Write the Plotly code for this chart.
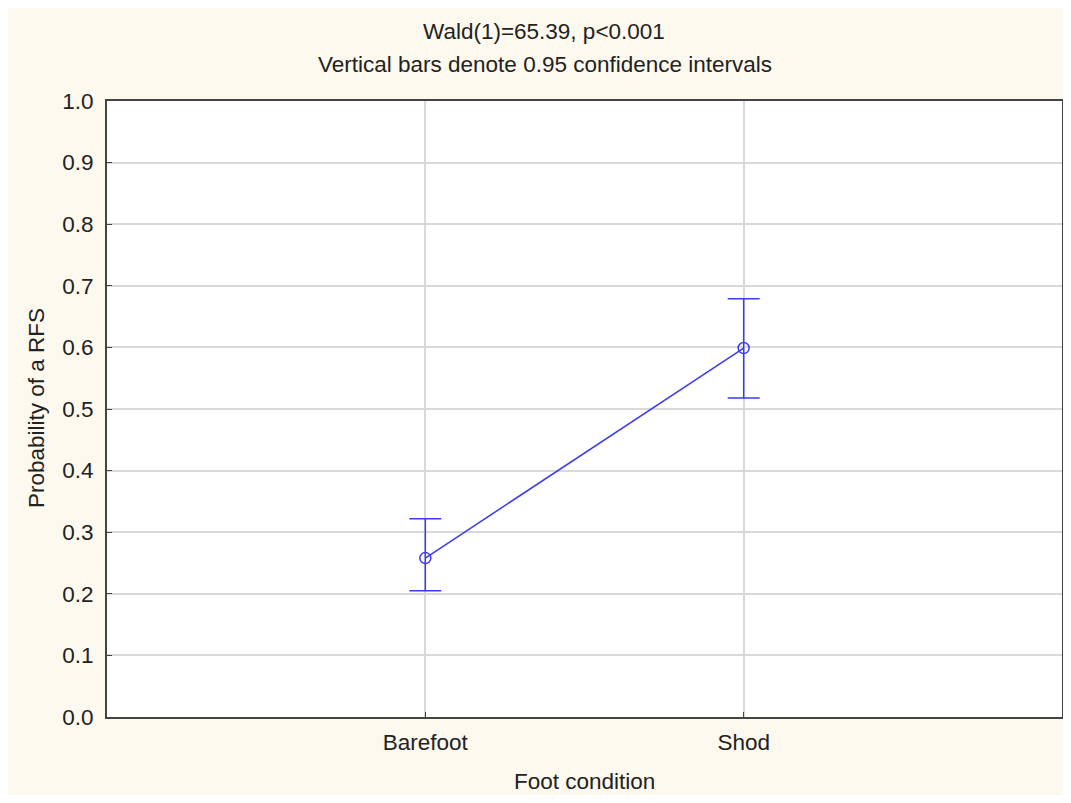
import plotly.graph_objects as go

categories = ["Barefoot", "Shod"]
x_pos = [1, 2]
means = [0.258, 0.599]
upper = [0.322, 0.679]
lower = [0.205, 0.518]
y_ticks = [i / 10 for i in range(11)]
y_tick_labels = [f"{v:.1f}" for v in y_ticks]

err_plus = [u - m for u, m in zip(upper, means)]
err_minus = [m - l for m, l in zip(means, lower)]

blue = "#3a3af0"
font = "Liberation Sans, Arial, sans-serif"
cream = "#fdf9ee"
fs = 22.5

# page offset (body margin) is 8 px
OFF = 8
W, H = 1055, 787
L, T = 107 - OFF, 101 - OFF
R = W - (1062 - OFF)
B = H - (717 - OFF)
PW, PH = W - L - R, H - T - B

def px(x):
    return (x - OFF - L) / PW

def py(y):
    return (H - B - (y - OFF)) / PH

fig = go.Figure()
fig.add_trace(go.Scatter(
    x=x_pos, y=means, mode="lines+markers",
    line=dict(color=blue, width=1.5),
    marker=dict(symbol="circle-open", size=11, color=blue, line=dict(width=1.5, color=blue)),
    error_y=dict(type="data", symmetric=False, array=err_plus, arrayminus=err_minus,
                 color=blue, thickness=1.5, width=16),
    showlegend=False,
))

ann_font = dict(family=font, size=fs, color="#222222")
fig.update_layout(
    width=W, height=H,
    paper_bgcolor=cream,
    plot_bgcolor="white",
    margin=dict(l=L, r=R, t=T, b=B, autoexpand=False),
    font=dict(family=font, size=fs, color="#222222"),
    annotations=[
        dict(text="Wald(1)=65.39, p<0.001", xref="paper", yref="paper",
             x=px(544), y=py(32), showarrow=False, font=ann_font, yanchor="middle"),
        dict(text="Vertical bars denote 0.95 confidence intervals", xref="paper", yref="paper",
             x=px(545), y=py(65), showarrow=False, font=ann_font, yanchor="middle"),
        dict(text="Foot condition", xref="paper", yref="paper",
             x=px(584), y=py(781), showarrow=False, font=ann_font, yanchor="middle"),
        dict(text="Probability of a RFS", xref="paper", yref="paper", textangle=-90,
             x=px(36), y=py(408), showarrow=False, font=ann_font,
             xanchor="center", yanchor="middle"),
    ],
    xaxis=dict(
        range=[0, 3], tickmode="array", tickvals=x_pos, ticktext=categories,
        showgrid=True, gridcolor="#d9d9d9", gridwidth=1.5,
        showline=True, linecolor="#444444", linewidth=2, mirror=True,
        ticks="inside", ticklen=5, tickcolor="#444444",
        tickfont=dict(size=fs), automargin=False, ticklabelstandoff=4,
        zeroline=False,
    ),
    yaxis=dict(
        range=[0, 1], tickmode="array", tickvals=y_ticks, ticktext=y_tick_labels,
        showgrid=True, gridcolor="#d9d9d9", gridwidth=1.5,
        showline=True, linecolor="#444444", linewidth=2, mirror=True,
        ticks="inside", ticklen=5, tickcolor="#444444",
        tickfont=dict(size=fs), automargin=False, ticklabelstandoff=7,
        zeroline=False,
    ),
)

fig.write_html("out.html")
